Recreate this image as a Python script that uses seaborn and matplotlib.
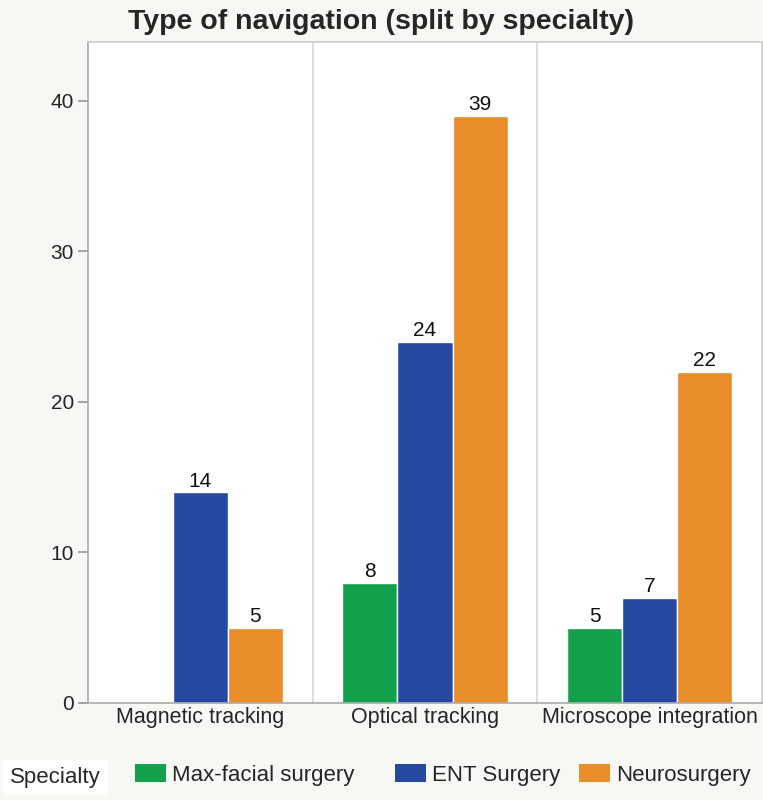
import pandas as pd
import numpy as np
import matplotlib.pyplot as plt
import seaborn as sns

# data
navigation = ['Magnetic tracking', 'Optical tracking', 'Microscope integration']
specialties = ['Max-facial surgery', 'ENT Surgery', 'Neurosurgery']
max_facial = [0, 8, 5]
ent = [14, 24, 7]
neuro = [5, 39, 22]

colors = ['#13a04a', '#2548a0', '#e98c2a']

df = pd.DataFrame({
    'Navigation': navigation * 3,
    'Specialty': [s for s in specialties for _ in navigation],
    'Count': max_facial + ent + neuro,
})

sns.set_theme(style='white')
plt.rcParams['font.family'] = ['Liberation Sans', 'DejaVu Sans']

fig = plt.figure(figsize=(7.63, 8), dpi=100, facecolor='#f7f7f3')
ax = fig.add_axes([0.1153, 0.12125, 0.8834, 0.82625])
ax.set_facecolor('white')

sns.barplot(data=df, x='Navigation', y='Count', hue='Specialty',
            hue_order=specialties, order=navigation, palette=colors,
            width=0.735, saturation=1, ax=ax, legend=False)

# value labels above bars (skip empty bars)
for cont in ax.containers:
    labels = [f'{b.get_height():.0f}' if b.get_height() > 0 else '' for b in cont]
    ax.bar_label(cont, labels=labels, fontsize=15, padding=1, color='#111111')

# separators between groups
for xv in [0.5, 1.5]:
    ax.axvline(xv, color='#d8d8d8', lw=1.2)

ax.set_xlim(-0.5, 2.5)
ax.set_ylim(0, 43.9)
ax.set_yticks([0, 10, 20, 30, 40])
ax.tick_params(axis='y', labelsize=15, length=7, color='#999999', left=True, pad=3)
ax.tick_params(axis='x', labelsize=15.5, length=0, pad=3)
ax.set_xlabel('')
ax.set_ylabel('')
for sp in ax.spines.values():
    sp.set_color('#cccccc')
    sp.set_linewidth(1.2)
ax.spines['left'].set_color('#aaaaaa')
ax.spines['bottom'].set_color('#aaaaaa')

fig.text(0.4993, 0.9725, 'Type of navigation (split by specialty)', ha='center', va='center',
         fontsize=20.5, fontweight='bold')

# legend at the bottom, one entry per cell like the reference
fig.text(0.013, 0.028, 'Specialty', ha='left', va='center', fontsize=16,
         bbox=dict(facecolor='white', edgecolor='none', pad=5))
legend_x = [135, 395, 579]
for name, c, lx in zip(specialties, colors, legend_x):
    h = plt.Rectangle((0, 0), 1, 1, facecolor=c, edgecolor='none')
    fig.legend([h], [name], loc='center left', bbox_to_anchor=(lx / 763, 0.031),
               frameon=False, fontsize=16, handlelength=1.4, handleheight=0.85,
               handletextpad=0.25, borderpad=0, borderaxespad=0)

plt.savefig('out.png', dpi=100, facecolor=fig.get_facecolor())
